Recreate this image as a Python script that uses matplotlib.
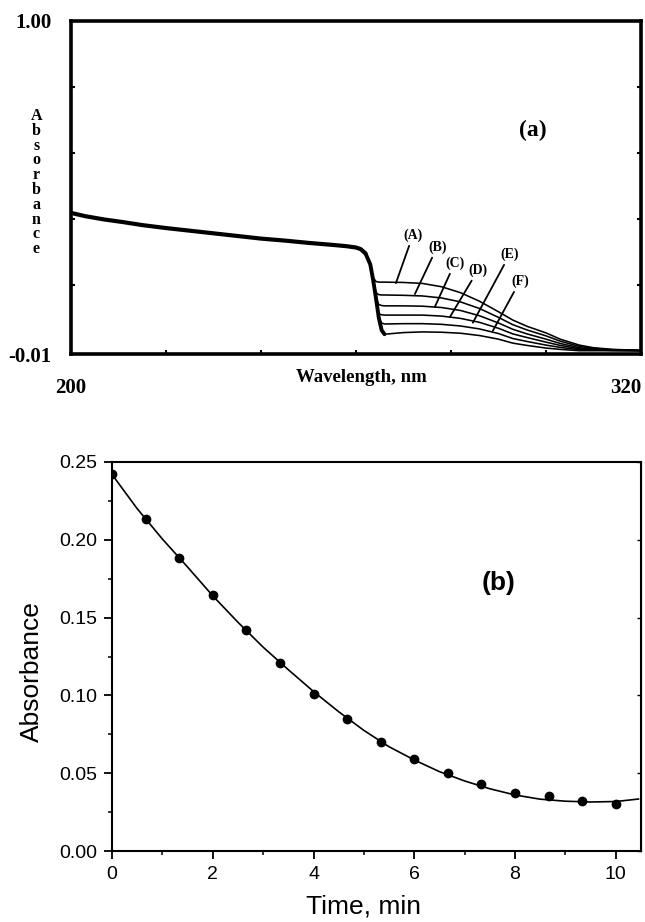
import matplotlib
matplotlib.use('Agg')
import matplotlib.pyplot as plt
from matplotlib.ticker import MultipleLocator, FixedLocator, FormatStrFormatter

# ---------------- Panel (a) data ----------------
wl_common = [200, 203, 207, 211, 215, 220, 225, 230, 235, 240, 245, 250, 255, 258, 260, 261, 262]
abs_common = [0.418, 0.408, 0.398, 0.390, 0.381, 0.372, 0.364, 0.356, 0.348, 0.340,
              0.334, 0.327, 0.321, 0.317, 0.313, 0.308, 0.295]

wl_tail = [262, 263, 263.6, 264.2, 264.8, 265.4, 266, 270, 274, 278, 282, 286, 290,
           293, 296, 300, 303, 307, 310, 314, 320]
abs_A = [0.295, 0.262, 0.222, 0.210, 0.208, 0.208, 0.208, 0.207, 0.204, 0.194, 0.176, 0.150,
         0.118, 0.093, 0.074, 0.054, 0.035, 0.017, 0.009, 0.004, 0.001]
abs_B = [0.295, 0.262, 0.215, 0.176, 0.170, 0.169, 0.169, 0.168, 0.166, 0.160, 0.148, 0.128,
         0.101, 0.079, 0.063, 0.045, 0.029, 0.013, 0.007, 0.003, 0.001]
abs_C = [0.295, 0.262, 0.215, 0.160, 0.140, 0.137, 0.136, 0.136, 0.135, 0.131, 0.122, 0.106,
         0.084, 0.065, 0.051, 0.035, 0.022, 0.009, 0.005, 0.002, 0.001]
abs_D = [0.295, 0.262, 0.215, 0.160, 0.112, 0.109, 0.108, 0.108, 0.108, 0.105, 0.098, 0.086,
         0.068, 0.051, 0.040, 0.026, 0.016, 0.006, 0.003, 0.001, 0.000]
abs_E = [0.295, 0.262, 0.215, 0.160, 0.100, 0.084, 0.081, 0.082, 0.082, 0.080, 0.075, 0.066,
         0.052, 0.037, 0.028, 0.017, 0.010, 0.003, 0.002, 0.001, 0.000]
abs_F = [0.295, 0.262, 0.215, 0.160, 0.100, 0.062, 0.050, 0.055, 0.057, 0.056, 0.053, 0.046,
         0.035, 0.023, 0.016, 0.008, 0.004, 0.000, 0.000, 0.000, 0.000]
tail_series = [abs_A, abs_B, abs_C, abs_D, abs_E, abs_F]

curve_labels = ['(A)', '(B)', '(C)', '(D)', '(E)', '(F)']
label_text_xy = [(272.0, 0.351), (277.1, 0.315), (280.8, 0.266), (285.7, 0.245),
                 (292.4, 0.293), (294.5, 0.211)]
label_point_xy = [(268.4, 0.205), (272.4, 0.172), (276.6, 0.133), (279.8, 0.103),
                  (284.6, 0.085), (288.8, 0.060)]

# ---------------- Panel (b) data ----------------
time_min = [0, 0.667, 1.333, 2, 2.667, 3.333, 4, 4.667, 5.333, 6, 6.667, 7.333, 8,
            8.667, 9.333, 10]
absorb_b = [0.242, 0.2136, 0.1885, 0.1643, 0.1418, 0.1208, 0.1007, 0.0850, 0.0700,
            0.0593, 0.0501, 0.0428, 0.0373, 0.0353, 0.0321, 0.0304]
fit_t = [0, 0.5, 1, 1.5, 2, 2.5, 3, 3.5, 4, 4.5, 5, 5.5, 6, 6.5, 7, 7.5, 8, 8.5, 9, 9.5,
         10, 10.45]
fit_a = [0.242, 0.220, 0.2005, 0.1825, 0.164, 0.147, 0.131, 0.1165, 0.1025, 0.0895, 0.0775,
         0.0670, 0.0585, 0.0510, 0.0450, 0.0400, 0.0360, 0.0333, 0.0320, 0.0315, 0.0318, 0.0334]

SERIF = ['Liberation Serif', 'DejaVu Serif']
SANS = ['Liberation Sans', 'DejaVu Sans']

fig = plt.figure(figsize=(6.45, 9.22), dpi=100)

# ================= Panel (a) =================
ax = fig.add_axes([71/645, 1 - 354/922, 570/645, 333/922])
ax.plot(wl_common, abs_common, color='black', lw=3.0, solid_capstyle='round',
        solid_joinstyle='round')
for s in tail_series:
    ax.plot(wl_tail, s, color='black', lw=1.15, solid_joinstyle='round')
# thick envelope of the steep drop
ax.plot(wl_tail[:7], abs_F[:7], color='black', lw=2.8, solid_capstyle='round',
        solid_joinstyle='round')

for lab, txy, pxy in zip(curve_labels, label_text_xy, label_point_xy):
    ax.annotate(lab, xy=pxy, xytext=txy, ha='center', va='center',
                fontsize=10, fontweight='bold', family=SERIF,
                arrowprops=dict(arrowstyle='-', lw=1.3, color='black',
                                shrinkA=1, shrinkB=0))

ax.set_xlim(200, 320)
ax.set_ylim(-0.01, 1.00)
for sp in ax.spines.values():
    sp.set_linewidth(2.6)

ax.set_xticks([200, 320])
ax.set_xticklabels(['200', '320'])
ax.set_yticks([-0.01, 1.00])
ax.set_yticklabels(['-0.01', '1.00'])
ax.xaxis.set_minor_locator(FixedLocator([220, 240, 260, 280, 300]))
ax.yaxis.set_minor_locator(FixedLocator([0.2, 0.4, 0.6, 0.8]))
ax.tick_params(which='major', length=0, pad=14, labelsize=15)
ax.tick_params(axis='x', which='major', pad=17)
ax.tick_params(which='minor', direction='in', length=3, width=1.5,
               right=True, top=False)
for t in ax.get_xticklabels() + ax.get_yticklabels():
    t.set_family(SERIF)
    t.set_fontweight('bold')
ax.get_xticklabels()[1].set_ha('right')

ax.text(0.509, -0.072, 'Wavelength, nm', transform=ax.transAxes, ha='center',
        va='center', fontsize=13.5, fontweight='bold', family=SERIF)
ax.text(-0.061, 0.515, '\n'.join('Absorbance'), transform=ax.transAxes, ha='center',
        va='center', fontsize=11.5, fontweight='bold', family=SERIF, linespacing=0.9)
ax.text(0.81, 0.67, '(a)', transform=ax.transAxes, ha='center', va='center',
        fontsize=17, fontweight='bold', family=SERIF)

# ================= Panel (b) =================
ax2 = fig.add_axes([112/645, 1 - 851/922, 529/645, 389/922])
ax2.plot(fit_t, fit_a, color='black', lw=1.2)
ax2.plot(time_min, absorb_b, 'o', color='black', markersize=6)
ax2.set_xlim(0, 10.5)
ax2.set_ylim(0, 0.25)
for sp in ax2.spines.values():
    sp.set_linewidth(1.5)
ax2.xaxis.set_major_locator(MultipleLocator(2))
ax2.xaxis.set_minor_locator(MultipleLocator(1))
ax2.yaxis.set_major_locator(MultipleLocator(0.05))
ax2.yaxis.set_minor_locator(MultipleLocator(0.025))
ax2.yaxis.set_major_formatter(FormatStrFormatter('%.2f'))
ax2.tick_params(which='major', direction='out', length=5.5, width=1.3, labelsize=14,
                pad=5)
ax2.tick_params(which='minor', direction='out', length=3, width=1.1)
for t in ax2.get_xticklabels() + ax2.get_yticklabels():
    t.set_family(SANS)

sec = ax2.secondary_yaxis('right')
sec.yaxis.set_major_locator(MultipleLocator(0.05))
sec.tick_params(direction='in', length=3, width=1.0, labelright=False)

ax2.set_xlabel('Time, min', fontsize=19, family=SANS, labelpad=8)
ax2.xaxis.set_label_coords(0.476, -0.112)
ax2.set_ylabel('Absorbance', fontsize=19, family=SANS, labelpad=8)
ax2.yaxis.set_label_coords(-0.129, 0.46)
ax2.text(0.73, 0.69, '(b)', transform=ax2.transAxes, ha='center', va='center',
         fontsize=19, fontweight='bold', family=SANS)

fig.savefig('out.png', dpi=100)
